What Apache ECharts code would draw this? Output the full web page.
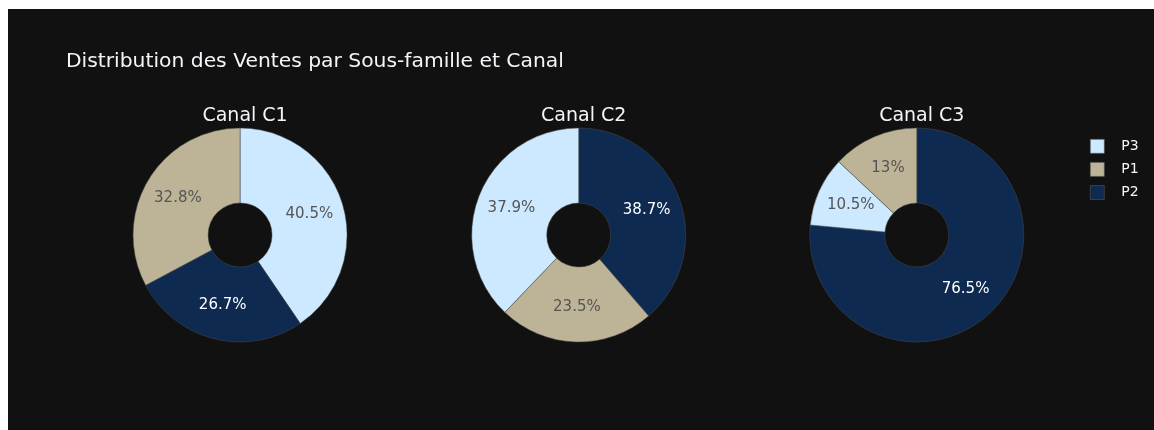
<!DOCTYPE html>
<html>
<head>
<meta charset="utf-8">
<script src="https://cdn.jsdelivr.net/npm/echarts@6/dist/echarts.min.js"></script>
<style>
  html, body { margin: 0; padding: 0; background: #ffffff; }
  #chart { position: absolute; left: 8px; top: 9px; width: 1146px; height: 421px; }
</style>
</head>
<body>
<div id="chart"></div>
<script>
// Sales share by sub-family (P1, P2, P3) for each channel, in slice order
const channels = ['Canal C1', 'Canal C2', 'Canal C3'];
const sliceNamesC1 = ['P3', 'P2', 'P1'];
const valuesC1 = [40.5, 26.7, 32.8];
const sliceNamesC2 = ['P2', 'P1', 'P3'];
const valuesC2 = [38.7, 23.5, 37.9];
const sliceNamesC3 = ['P2', 'P3', 'P1'];
const valuesC3 = [76.5, 10.5, 13.0];
const legendOrder = ['P3', 'P1', 'P2'];

const colors = { P3: '#cce9ff', P1: '#bdb396', P2: '#0e2a50' };
const textColors = { P3: '#555555', P1: '#555555', P2: '#ffffff' };
const FONT = 'DejaVu Sans';

const slices = [
  [sliceNamesC1, valuesC1],
  [sliceNamesC2, valuesC2],
  [sliceNamesC3, valuesC3]
];
const centersX = ['20.25%', '49.8%', '79.3%'];

function fmtPct(p) {
  return parseFloat(p.toFixed(1)) + '%';
}

const series = slices.map(([names, vals], i) => ({
  type: 'pie',
  name: channels[i],
  center: [centersX[i], 226],
  radius: [32, 107],
  startAngle: 90,
  clockwise: true,
  avoidLabelOverlap: false,
  percentPrecision: 3,
  silent: true,
  label: {
    show: true,
    position: 'inside',
    fontFamily: FONT,
    fontSize: 15,
    formatter: (p) => fmtPct(p.percent)
  },
  labelLine: { show: false },
  itemStyle: { borderWidth: 0.5, borderColor: '#4a4a4a' },
  data: names.map((n, k) => ({
    name: n,
    value: vals[k],
    itemStyle: { color: colors[n] },
    label: { color: textColors[n] }
  }))
}));

const chart = echarts.init(document.getElementById('chart'), null, { renderer: 'canvas' });
chart.setOption({
  backgroundColor: '#111111',
  animation: false,
  title: [
    {
      text: 'Distribution des Ventes par Sous-famille et Canal',
      left: 53,
      top: 38,
      textStyle: { color: '#f2f5fa', fontFamily: FONT, fontSize: 20.3, fontWeight: 'normal' }
    },
    ...channels.map((c, i) => ({
      text: c,
      left: centersX[i],
      top: 93,
      textAlign: 'center',
      textStyle: { color: '#f2f5fa', fontFamily: FONT, fontSize: 19, fontWeight: 'normal' }
    }))
  ],
  legend: {
    orient: 'vertical',
    left: 1077,
    top: 125,
    icon: 'rect',
    itemWidth: 14,
    itemHeight: 14,
    itemGap: 8.5,
    data: legendOrder,
    selectedMode: false,
    itemStyle: { borderColor: '#555555', borderWidth: 0.6 },
    textStyle: { color: '#f2f5fa', fontFamily: FONT, fontSize: 14, padding: [0, 0, 0, 12] }
  },
  series: series
});
</script>
</body>
</html>
